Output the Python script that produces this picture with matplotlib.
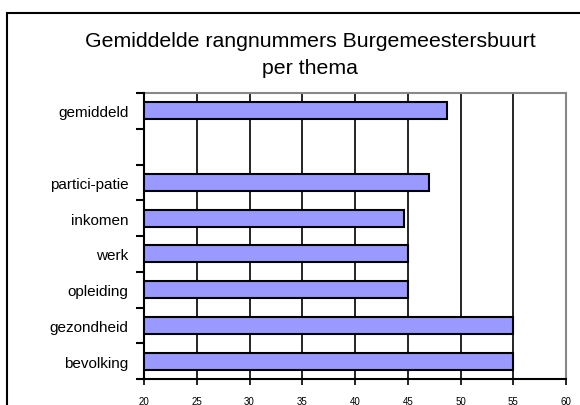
import numpy as np
from matplotlib import pyplot as plt
from matplotlib.patches import Rectangle

plt.rcParams['font.family'] = ['Liberation Sans', 'DejaVu Sans']

# thema's van onder naar boven, lege plek tussen participatie en gemiddeld
themes = ['bevolking', 'gezondheid', 'opleiding', 'werk', 'inkomen',
          'partici-patie', '', 'gemiddeld']
ranks = [55, 55, 45, 45, 44.6, 47, None, 48.7]
xticks = [20, 25, 30, 35, 40, 45, 50, 55, 60]

fig = plt.figure(figsize=(5.8, 4.06), dpi=100)
ax = fig.add_axes([144 / 580, 1 - 380 / 406, 422 / 580, 286 / 406])

# buitenkader van de grafiek
fig.patches.append(Rectangle((7 / 580, -0.1), 1.2, 1 - 14 / 406 + 0.1,
                             transform=fig.transFigure, fill=False,
                             edgecolor='black', linewidth=1.5))

pos = [i for i, v in enumerate(ranks) if v is not None]
vals = [v for v in ranks if v is not None]
ax.barh(pos, vals, height=0.47, color='#9999FF', edgecolor='black',
        linewidth=1.5, zorder=3)

ax.set_xlim(20, 60)
ax.set_ylim(-0.5, len(themes) - 0.5)
ax.set_xticks(xticks)
ax.set_xticklabels([str(t) for t in xticks], fontsize=7)
ax.xaxis.grid(True, color='black', linewidth=1.2, zorder=0)
ax.tick_params(axis='x', length=4, width=1.2, pad=8)

ax.set_yticks(range(len(themes)))
ax.set_yticklabels(themes, fontsize=11)
ax.tick_params(axis='y', which='major', length=0, pad=11)
ax.set_yticks(np.arange(-0.5, len(themes), 1), minor=True)
ax.tick_params(axis='y', which='minor', length=6, width=1.5)

for s in ['left', 'bottom']:
    ax.spines[s].set_linewidth(1.5)
    ax.spines[s].set_zorder(4)
for s in ['top', 'right']:
    ax.spines[s].set_color('#888888')
    ax.spines[s].set_linewidth(1.5)

fig.text(310 / 580, 1 - 55 / 406,
         "Gemiddelde rangnummers Burgemeestersbuurt\nper thema",
         ha='center', va='center', fontsize=15.3, linespacing=1.55)

plt.savefig("out.png", dpi=100)
